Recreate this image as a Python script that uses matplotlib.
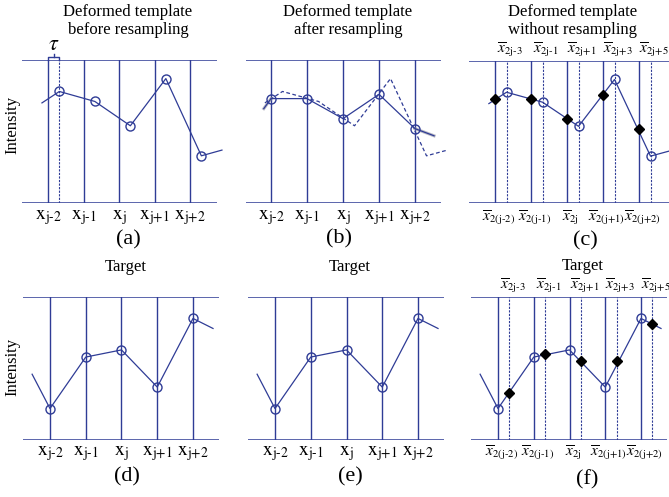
import numpy as np
import matplotlib.pyplot as plt

plt.rcParams['font.family'] = ['Liberation Serif', 'DejaVu Serif']
plt.rcParams['mathtext.fontset'] = 'stix'

W, H = 669, 497
BLUE = '#2f3c96'

# sample grid (index of x_j-2 ... x_j+2) and the deformation shift
samples = [0, 1, 2, 3, 4]
tau = 0.32

# deformed template, values sit at x_k + tau
tmpl = [0.78, 0.71, 0.54, 0.87, 0.33]
tmpl_left = (-0.17, 0.70)
tmpl_right = (4.9, 0.37)

# deformed template read back on the grid x_k
resampled = [0.73, 0.73, 0.59, 0.76, 0.52]
resamp_left = (-0.2, 0.66)
resamp_right = (4.53, 0.47)

# target image, values at x_k
target = [0.22, 0.58, 0.63, 0.37, 0.85]
target_left = (-0.5, 0.46)
target_right = (4.56, 0.78)
# target read at x_k + tau
target_shift = [0.33, 0.60, 0.55, 0.55, 0.81]

x_labels = [r'$\mathrm{x}_{\text{j-2}}$', r'$\mathrm{x}_{\text{j-1}}$',
            r'$\mathrm{x}_{\text{j}}$', r'$\mathrm{x}_{\text{j+1}}$', r'$\mathrm{x}_{\text{j+2}}$']
bar_bottom = [r'$\overline{x}_{\text{2(j-2)}}$', r'$\overline{x}_{\text{2(j-1)}}$',
              r'$\overline{x}_{\text{2j}}$', r'$\overline{x}_{\text{2(j+1)}}$',
              r'$\overline{x}_{\text{2(j+2)}}$']
bar_top = [r'$\overline{x}_{\text{2j-3}}$', r'$\overline{x}_{\text{2j-1}}$',
           r'$\overline{x}_{\text{2j+1}}$', r'$\overline{x}_{\text{2j+3}}$',
           r'$\overline{x}_{\text{2j+5}}$']

fig = plt.figure(figsize=(W / 100, H / 100), dpi=100)


def panel(L, R, T, B, x0, s, dashed=False):
    # axes placed in pixels, x in sample units, y 0..1 between the two lines
    ax = fig.add_axes([L / W, 1 - B / H, (R - L) / W, (B - T) / H])
    ax.set_xlim((L - x0) / s, (R - x0) / s)
    ax.set_ylim(0, 1)
    ax.axis('off')
    ax.axhline(0, color=BLUE, lw=1.1)
    ax.axhline(1, color=BLUE, lw=1.1)
    for x in samples:
        ax.axvline(x, color=BLUE, lw=1.0)
        if dashed:
            ax.axvline(x + tau, color=BLUE, lw=0.8, ls=(0, (2, 1.2)))
    return ax


def curve(ax, xs, ys, left, right, ls='-', marker='o'):
    px = [left[0]] + list(xs) + [right[0]]
    py = [left[1]] + list(ys) + [right[1]]
    ax.plot(px, py, color=BLUE, lw=0.9, ls=ls, clip_on=False)
    if marker:
        ax.plot(xs, ys, 'o', mfc='none', mec=BLUE, ms=6.5, mew=1.0, clip_on=False)


def diamonds(ax, xs, ys):
    ax.plot(xs, ys, 'D', color='black', ms=5, clip_on=False, zorder=5)


def under(ax, labels, dy, dx=0.0, size=14):
    for x, lab in zip(samples, labels):
        ax.text(x + dx, dy, lab, ha='center', va='center', fontsize=size, clip_on=False)


def title(x, y, s):
    fig.text(x / W, 1 - y / H, s, ha='center', va='center', fontsize=12, linespacing=1.1)


shifted = [x + tau for x in samples]

# (a)
ax = panel(22, 217, 60, 203, 48, 35.5, dashed=False)
ax.axvline(tau, color=BLUE, lw=0.8, ls=(0, (2, 1.2)))
curve(ax, shifted, tmpl, tmpl_left, tmpl_right)
under(ax, x_labels, -0.105)
ax.text(2.25, -0.26, '(a)', ha='center', va='center', fontsize=16)
ax.plot([0, 0, tau, tau], [1.0, 1.02, 1.02, 1.0], color=BLUE, lw=1.0, clip_on=False)
ax.plot([tau / 2, tau / 2], [1.02, 1.04], color=BLUE, lw=1.0, clip_on=False)
ax.text(tau / 2, 1.1, r'$\tau$', ha='center', va='center', fontsize=16, clip_on=False)

# (b)
ax = panel(246, 441, 60, 203, 271, 36)
curve(ax, shifted, tmpl, tmpl_left, tmpl_right, ls=(0, (3, 2)), marker=None)
ax.plot([resamp_left[0], 0], [resamp_left[1], resampled[0]], color='#8c8c9c', lw=2.2, alpha=0.6)
ax.plot([4, resamp_right[0]], [resampled[4], resamp_right[1]], color='#8c8c9c', lw=2.2, alpha=0.6)
curve(ax, samples, resampled, resamp_left, resamp_right)
under(ax, x_labels, -0.105)
ax.text(1.9, -0.25, '(b)', ha='center', va='center', fontsize=16)

# (c)
ax = panel(469, 669, 61, 203, 495, 36, dashed=True)
curve(ax, shifted, tmpl, tmpl_left, tmpl_right)
diamonds(ax, samples, resampled)
under(ax, bar_bottom, -0.1, dx=0.1, size=11)
for x, lab in zip(shifted, bar_top):
    ax.text(x + 0.1, 1.08, lab, ha='center', va='center', fontsize=11, clip_on=False)
ax.text(2.5, -0.27, '(c)', ha='center', va='center', fontsize=16)

# (d)
ax = panel(23, 219, 297, 440, 50, 35.75)
curve(ax, samples, target, target_left, target_right)
under(ax, x_labels, -0.095)
ax.text(2.15, -0.26, '(d)', ha='center', va='center', fontsize=16)

# (e)
ax = panel(248, 444, 297, 440, 275, 35.75)
curve(ax, samples, target, target_left, target_right)
under(ax, x_labels, -0.095)
ax.text(2.1, -0.26, '(e)', ha='center', va='center', fontsize=16)

# (f)
ax = panel(471, 667, 297, 440, 498, 35.75, dashed=True)
curve(ax, samples, target, target_left, target_right)
diamonds(ax, shifted, target_shift)
under(ax, bar_bottom, -0.085, dx=0.1, size=11)
for x, lab in zip(shifted, bar_top):
    ax.text(x + 0.1, 1.08, lab, ha='center', va='center', fontsize=11, clip_on=False)
ax.text(2.5, -0.28, '(f)', ha='center', va='center', fontsize=16)

title(128, 21, 'Deformed template\nbefore resampling')
title(348, 21, 'Deformed template\nafter resampling')
title(573, 21, 'Deformed template\nwithout resampling')
title(126, 267, 'Target')
title(350, 267, 'Target')
title(583, 266, 'Target')
fig.text(12 / W, 1 - 125 / H, 'Intensity', rotation=90, ha='center', va='center', fontsize=12)
fig.text(12 / W, 1 - 367 / H, 'Intensity', rotation=90, ha='center', va='center', fontsize=12)

fig.savefig('out.png', dpi=100)
